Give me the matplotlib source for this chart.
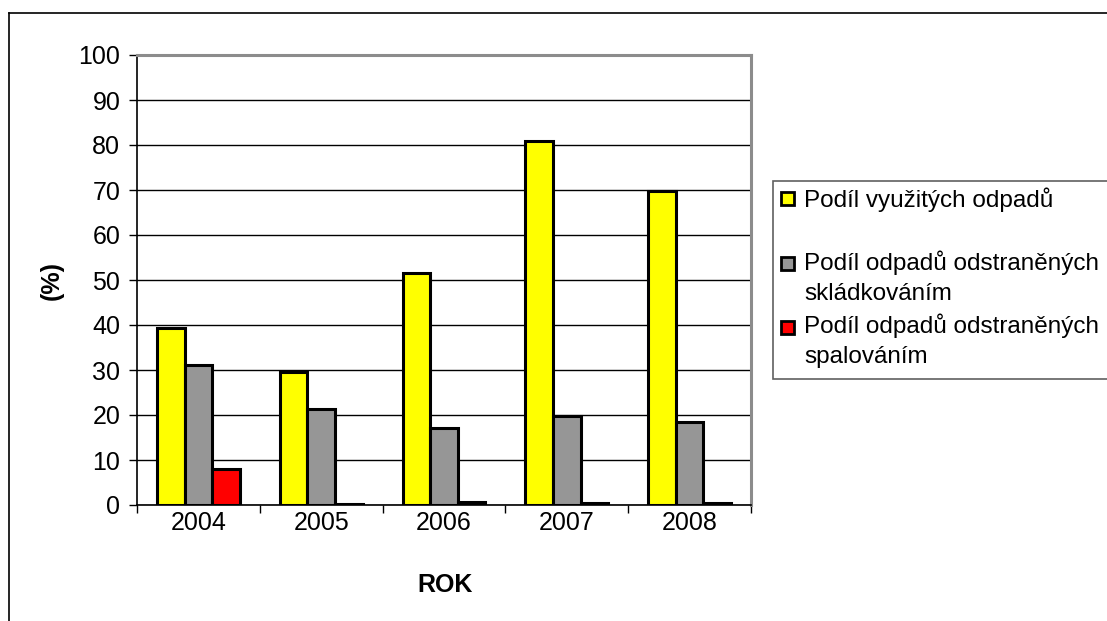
import numpy as np
import matplotlib
matplotlib.use('Agg')
import matplotlib.pyplot as plt
import matplotlib.patches as mpatches
import matplotlib.lines as mlines

plt.rcParams['font.family'] = ['Liberation Sans', 'DejaVu Sans']

# Data
years = ['2004', '2005', '2006', '2007', '2008']
vyuzite = [39.3, 29.6, 51.5, 80.9, 69.8]
skladkovani = [31.1, 21.3, 17.2, 19.8, 18.4]
spalovani = [7.9, 0.3, 0.7, 0.4, 0.4]

labels = ['Podíl využitých odpadů',
          'Podíl odpadů odstraněných\nskládkováním',
          'Podíl odpadů odstraněných\nspalováním']
colors = ['#ffff00', '#969696', '#ff0000']

W, H = 1107, 621
fig = plt.figure(figsize=(W / 100, H / 100), dpi=100)
fig.patch.set_facecolor('white')


def fx(px):
    return px / W


def fy(py):
    return 1 - py / H


# outer chart border (cut off at right and bottom)
fig.add_artist(mlines.Line2D([fx(9), fx(9)], [fy(13), 0], color='black', lw=1.2, transform=fig.transFigure))
fig.add_artist(mlines.Line2D([fx(9), 1], [fy(13), fy(13)], color='black', lw=1.2, transform=fig.transFigure))

ax = fig.add_axes([fx(137), fy(505), fx(751) - fx(137), fy(55) - fy(505)])

x = np.arange(len(years))
bw = 0.225
series = [vyuzite, skladkovani, spalovani]
for i, (vals, c) in enumerate(zip(series, colors)):
    ax.bar(x + (i - 1) * bw, vals, width=bw, color=c, edgecolor='black', linewidth=2.2, zorder=3)

ax.set_xlim(-0.5, len(years) - 0.5)
ax.set_ylim(0, 100)
ax.set_yticks(np.arange(0, 101, 10))
ax.set_xticks(x)
ax.set_xticklabels(years)
ax.set_xticks(np.arange(-0.5, len(years), 1), minor=True)
ax.tick_params(axis='x', which='major', length=0, labelsize=18, pad=4)
ax.tick_params(axis='x', which='minor', length=6, width=1, direction='out')
ax.tick_params(axis='y', length=6, width=1, labelsize=18, pad=6)
ax.yaxis.grid(True, color='black', linewidth=1.0, zorder=0)
ax.set_axisbelow(True)

for s in ['top', 'right']:
    ax.spines[s].set_color('#8c8c8c')
    ax.spines[s].set_linewidth(2.2)
ax.spines['left'].set_color('black')
ax.spines['bottom'].set_color('black')
ax.spines['left'].set_linewidth(1.2)
ax.spines['bottom'].set_linewidth(1.2)

fig.text(fx(52), fy(280), '(%)', rotation=90, ha='center', va='center', fontsize=18, fontweight='bold')
fig.text(fx(445), fy(585), 'ROK', ha='center', va='center', fontsize=18, fontweight='bold')

# legend box
fig.add_artist(mpatches.Rectangle((fx(773), fy(379)), fx(1140) - fx(773), fy(181) - fy(379),
                                  facecolor='white', edgecolor='#606060', lw=1.2,
                                  transform=fig.transFigure, clip_on=False))
sq_tops = [192, 257, 321]
baselines = [207, 270, 333]
for c, lab, top, base in zip(colors, labels, sq_tops, baselines):
    fig.add_artist(mpatches.Rectangle((fx(781), fy(top + 13)), fx(13), fy(0) - fy(13),
                                      facecolor=c, edgecolor='black', lw=2,
                                      transform=fig.transFigure))
    lines = lab.split('\n')
    for k, ln in enumerate(lines):
        fig.text(fx(804), fy(base + 30 * k), ln, ha='left', va='baseline', fontsize=17.5)

fig.savefig('out.png', dpi=100)
